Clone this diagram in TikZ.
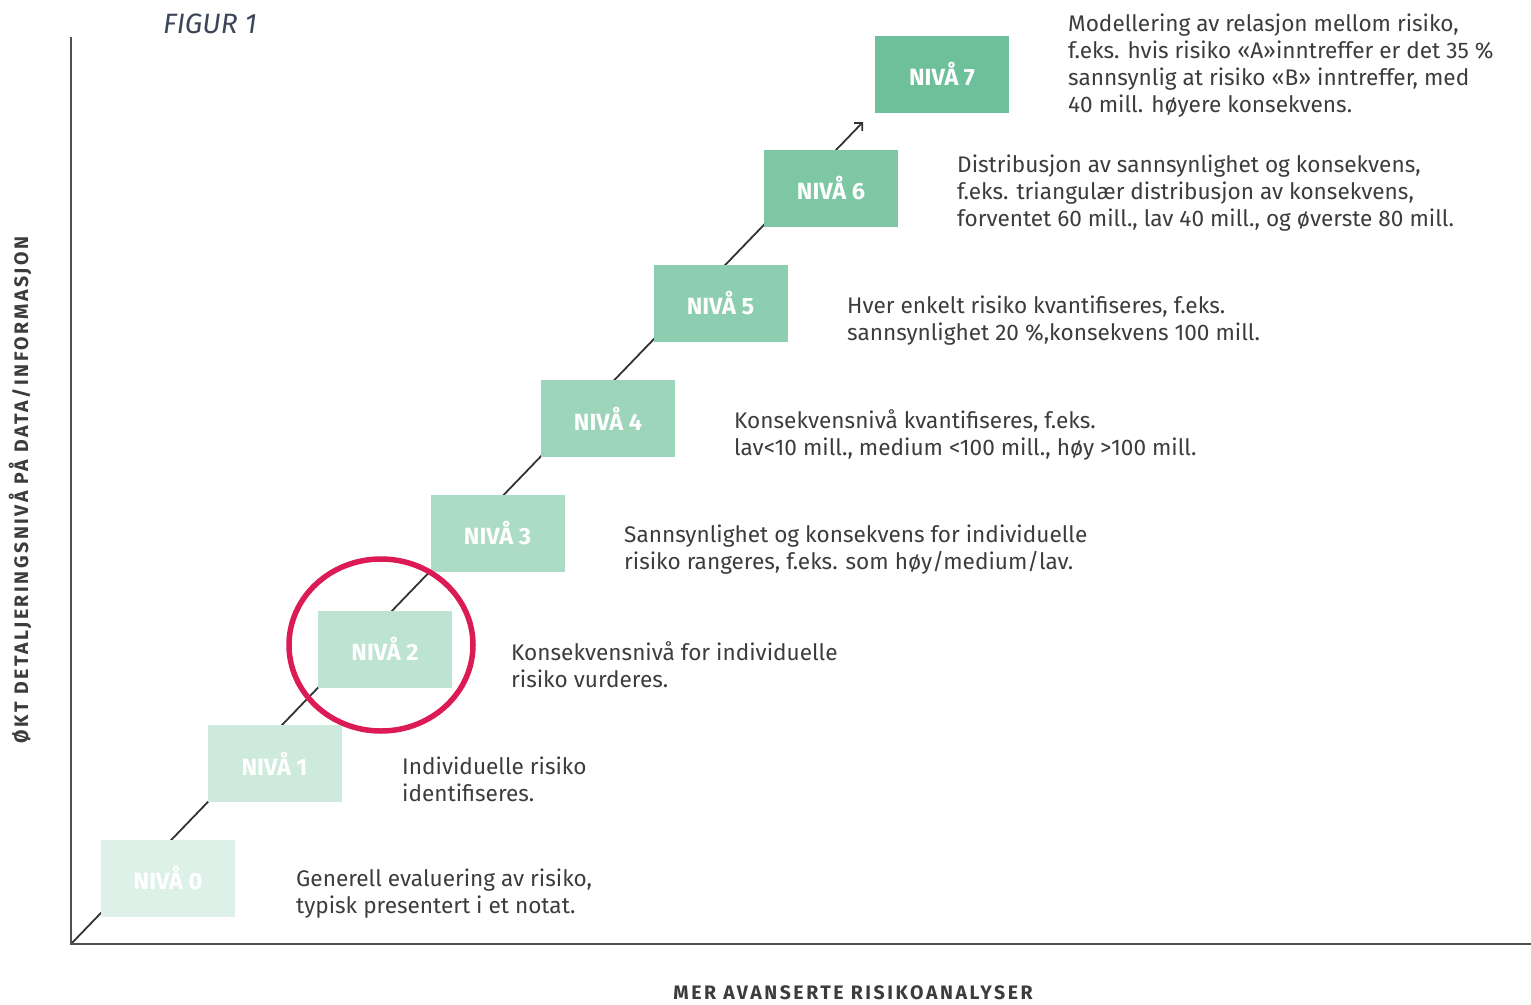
\documentclass[tikz,border=0pt]{standalone}
\usepackage{fontspec}
\setmainfont{Fira Sans}
\newfontfamily\labfont[LetterSpace=13]{Fira Sans}
\usetikzlibrary{arrows.meta,backgrounds}
\definecolor{txt}{HTML}{3C3C3C}
\definecolor{figc}{HTML}{3D4658}
\definecolor{green7}{HTML}{6DC09A}
\definecolor{ringc}{HTML}{DC1A55}
\definecolor{axisc}{HTML}{505050}
\tikzset{
  lvl/.style={minimum width=134pt, minimum height=77pt, inner sep=0pt,
    text=white, font=\fontsize{23.5}{26}\selectfont\bfseries},
  desc/.style={anchor=west, align=left, inner sep=0pt, text=txt,
    font=\fontsize{22.6}{27}\selectfont},
  axisline/.style={draw=axisc, line width=2.6pt},
  diag/.style={draw=black!80, line width=1.8pt},
  axlabel/.style={text=txt, font=\labfont\fontsize{19.5}{22}\selectfont\bfseries, inner sep=0pt}
}
\begin{document}
\begin{tikzpicture}[x=1pt,y=-1pt]
\useasboundingbox (0,0) rectangle (1531,1004);
% axes
\coordinate (O) at (71,944);
\coordinate (ytop) at (71,37);
\coordinate (xend) at (1531,944);
\draw[axisline] (ytop) -- (O) -- (xend);
% level boxes
\foreach \i/\p/\cx/\cy in {0/23/168/878.5,1/34/274.5/763.5,2/45/385/649,3/56/497.5/533,4/67/608/418.5,5/78/720.5/303.5,6/89/831/188.5,7/100/942/74.5}{
  \node[lvl, fill=green7!\p!white] (n\i) at (\cx,\cy) {NIVÅ \i};
}
% diagonal arrow behind the boxes
\coordinate (tip) at (863,122);
\begin{scope}[on background layer]
\draw[diag, -{Straight Barb[angle=90:8pt, line width=1.8pt]}] (O) -- (tip);
\end{scope}
% descriptions
\node[desc] (d0) at (296,894) {Generell evaluering av risiko,\\typisk presentert i et notat.};
\node[desc] (d1) at (402,779) {Individuelle risiko\\identifiseres.};
\node[desc] (d2) at (511,665) {Konsekvensnivå for individuelle\\risiko vurderes.};
\node[desc] (d3) at (624,550) {Sannsynlighet og konsekvens for individuelle\\risiko rangeres, f.eks. som høy/medium/lav.};
\node[desc] (d4) at (734,435) {Konsekvensnivå kvantifiseres, f.eks.\\lav<10 mill., medium <100 mill., høy >100 mill.};
\node[desc] (d5) at (847,321) {Hver enkelt risiko kvantifiseres, f.eks.\\sannsynlighet 20 \%,konsekvens 100 mill.};
\node[desc] (d6) at (957,193) {Distribusjon av sannsynlighet og konsekvens,\\f.eks. triangulær distribusjon av konsekvens,\\forventet 60 mill., lav 40 mill., og øverste 80 mill.};
\node[desc] (d7) at (1068,66) {Modellering av relasjon mellom risiko,\\f.eks. hvis risiko «A»inntreffer er det 35 \%\\sannsynlig at risiko «B» inntreffer, med\\40 mill. høyere konsekvens.};
% titles and axis labels
\node[text=figc, font=\fontsize{28}{32}\selectfont\itshape, anchor=west, inner sep=0pt] (fig) at (163,24) {FIGUR 1};
\node[axlabel, rotate=90] (ylab) at (20,490) {ØKT DETALJERINGSNIVÅ PÅ DATA/INFORMASJON};
\node[axlabel] (xlab) at (853,993) {MER AVANSERTE RISIKOANALYSER};
% highlight ring
\draw[ringc, line width=5.5pt] (n2.center) ++(-4,-4) ellipse [x radius=92, y radius=86];
\end{tikzpicture}
\end{document}
